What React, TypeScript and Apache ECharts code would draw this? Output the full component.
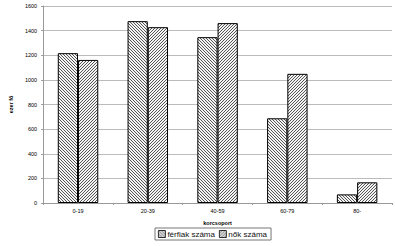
import React, { useEffect, useRef } from "react";
import * as echarts from "echarts";

const categories = ["0-19", "20-39", "40-59", "60-79", "80-"];
const ferfiak = [1217, 1477, 1347, 688, 70];
const nok = [1162, 1428, 1461, 1049, 168];
const seriesNames = ["férfiak száma", "nők száma"];

function makeTile(back: boolean): HTMLCanvasElement {
  const c = document.createElement("canvas");
  c.width = 3;
  c.height = 3;
  const ctx = c.getContext("2d")!;
  ctx.fillStyle = "#f4f4f4";
  ctx.fillRect(0, 0, 3, 3);
  ctx.fillStyle = "#555";
  for (let i = 0; i < 3; i++) {
    ctx.fillRect(back ? i : 2 - i, i, 1, 1);
  }
  return c;
}

export default function App() {
  const ref = useRef<HTMLDivElement>(null);
  useEffect(() => {
    if (!ref.current) return;
    const chart = echarts.init(ref.current, null, { renderer: "svg" });
    const font = "Liberation Sans, Arial, sans-serif";
    const pat = (back: boolean) => ({ image: makeTile(back), repeat: "repeat", imageWidth: 3, imageHeight: 3 });
    chart.setOption({
      animation: false,
      backgroundColor: "#fff",
      grid: { left: 30, right: 3, top: 6, bottom: 43, containLabel: false },
      legend: {
        bottom: 6,
        left: 155,
        icon: "rect",
        itemWidth: 7,
        itemHeight: 7,
        itemGap: 4,
        padding: [2, 4, 2, 3],
        borderColor: "#777",
        borderWidth: 1,
        itemStyle: { borderWidth: 0.8, borderColor: "#000" },
        textStyle: { fontFamily: font, fontSize: 8, color: "#111", padding: [0, 0, 0, -3] },
        data: seriesNames,
      },
      xAxis: {
        type: "category",
        data: categories,
        name: "korcsoport",
        nameLocation: "middle",
        nameGap: 17,
        nameTextStyle: { fontFamily: font, fontSize: 5.5, fontWeight: "bold", color: "#000" },
        axisLine: { lineStyle: { color: "#999", width: 1 } },
        axisTick: { show: true, length: 2, lineStyle: { color: "#999" } },
        axisLabel: { fontFamily: font, fontSize: 5.5, color: "#000", margin: 5 },
      },
      yAxis: {
        type: "value",
        min: 0,
        max: 1600,
        interval: 200,
        name: "ezer fő",
        nameLocation: "middle",
        nameGap: 22,
        nameTextStyle: { fontFamily: font, fontSize: 5.5, fontWeight: "bold", color: "#000" },
        axisLine: { show: true, lineStyle: { color: "#999", width: 1 } },
        axisTick: { show: true, length: 2, lineStyle: { color: "#999" } },
        axisLabel: { fontFamily: font, fontSize: 5.5, color: "#000", margin: 6, formatter: (v: number) => String(v) },
        splitLine: { lineStyle: { color: "#bbb", width: 1 } },
      },
      series: [
        {
          name: seriesNames[0],
          type: "bar",
          data: ferfiak,
          barWidth: "29%",
          barGap: "0%",
          itemStyle: { color: pat(true), borderColor: "#000", borderWidth: 1 },
        },
        {
          name: seriesNames[1],
          type: "bar",
          data: nok,
          barWidth: "29%",
          itemStyle: { color: pat(false), borderColor: "#000", borderWidth: 1 },
        },
      ],
    });
    return () => chart.dispose();
  }, []);
  return <div ref={ref} style={{ width: 395, height: 246, position: "absolute", left: 0, top: 0 }} />;
}
